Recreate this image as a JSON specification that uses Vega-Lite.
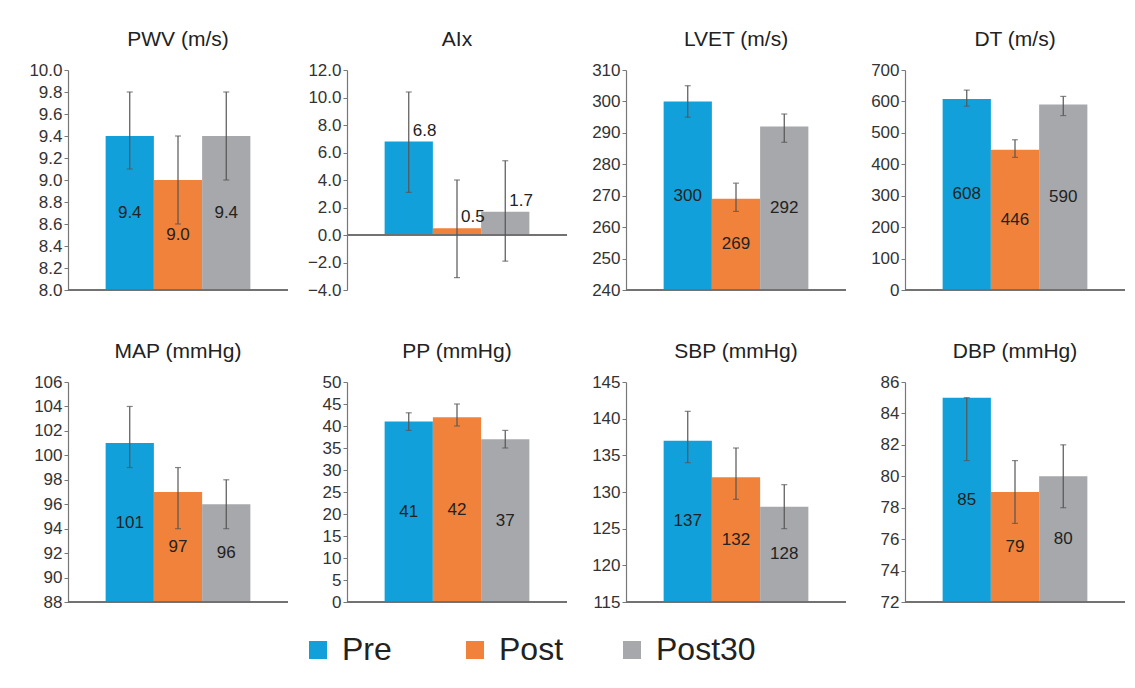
{
  "$schema": "https://vega.github.io/schema/vega-lite/v6.json",
  "background": "white",
  "padding": {"left": 28, "top": 29, "right": 5, "bottom": 5},
  "data": {"values": [
    {"panel": "PWV", "group": "Pre", "value": 9.4, "lo": 9.1, "hi": 9.8},
    {"panel": "PWV", "group": "Post", "value": 9.0, "lo": 8.6, "hi": 9.4},
    {"panel": "PWV", "group": "Post30", "value": 9.4, "lo": 9.0, "hi": 9.8},
    {"panel": "AIx", "group": "Pre", "value": 6.8, "lo": 3.1, "hi": 10.4},
    {"panel": "AIx", "group": "Post", "value": 0.5, "lo": -3.1, "hi": 4.0},
    {"panel": "AIx", "group": "Post30", "value": 1.7, "lo": -1.9, "hi": 5.4},
    {"panel": "LVET", "group": "Pre", "value": 300, "lo": 295, "hi": 305},
    {"panel": "LVET", "group": "Post", "value": 269, "lo": 265, "hi": 274},
    {"panel": "LVET", "group": "Post30", "value": 292, "lo": 287, "hi": 296},
    {"panel": "DT", "group": "Pre", "value": 608, "lo": 585, "hi": 636},
    {"panel": "DT", "group": "Post", "value": 446, "lo": 422, "hi": 478},
    {"panel": "DT", "group": "Post30", "value": 590, "lo": 555, "hi": 616},
    {"panel": "MAP", "group": "Pre", "value": 101, "lo": 99, "hi": 104},
    {"panel": "MAP", "group": "Post", "value": 97, "lo": 94, "hi": 99},
    {"panel": "MAP", "group": "Post30", "value": 96, "lo": 94, "hi": 98},
    {"panel": "PP", "group": "Pre", "value": 41, "lo": 39, "hi": 43},
    {"panel": "PP", "group": "Post", "value": 42, "lo": 40, "hi": 45},
    {"panel": "PP", "group": "Post30", "value": 37, "lo": 35, "hi": 39},
    {"panel": "SBP", "group": "Pre", "value": 137, "lo": 134, "hi": 141},
    {"panel": "SBP", "group": "Post", "value": 132, "lo": 129, "hi": 136},
    {"panel": "SBP", "group": "Post30", "value": 128, "lo": 125, "hi": 131},
    {"panel": "DBP", "group": "Pre", "value": 85, "lo": 81, "hi": 85},
    {"panel": "DBP", "group": "Post", "value": 79, "lo": 77, "hi": 81},
    {"panel": "DBP", "group": "Post30", "value": 80, "lo": 78, "hi": 82}
  ]},
  "columns": 4,
  "bounds": "flush",
  "spacing": {"row": 92, "column": 59},
  "concat": [
    {
      "title": "PWV (m/s)", "width": 220, "height": 220,
      "transform": [{"filter": {"field": "panel", "equal": "PWV"}}],
      "resolve": {"scale": {"y": "independent"}},
      "layer": [
        {"mark": "bar", "encoding": {
          "x": {"field": "group", "type": "nominal", "sort": ["Pre", "Post", "Post30"], "axis": null, "scale": {"paddingInner": 0, "paddingOuter": 0.78}},
          "y": {"field": "value", "type": "quantitative", "title": null, "scale": {"domain": [8, 10], "nice": false, "zero": false}, "axis": {"values": [8, 8.2, 8.4, 8.6, 8.8, 9, 9.2, 9.4, 9.6, 9.8, 10], "format": ".1f", "labelOverlap": false}},
          "y2": {"datum": 8},
          "color": {"field": "group", "type": "nominal", "scale": {"domain": ["Pre", "Post", "Post30"], "range": ["#12A0DA", "#F0823B", "#A6A8AB"]}, "legend": {"title": null}}}},
        {"mark": {"type": "rule", "color": "#707070", "strokeWidth": 1.5}, "encoding": {"y": {"datum": 8, "axis": null, "scale": {"domain": [8, 10], "nice": false, "zero": false}}}},
        {"mark": {"type": "rule", "color": "#555", "strokeWidth": 1.2}, "encoding": {
          "x": {"field": "group", "type": "nominal", "sort": ["Pre", "Post", "Post30"], "axis": null},
          "y": {"field": "lo", "type": "quantitative", "axis": null, "scale": {"domain": [8, 10], "nice": false, "zero": false}}, "y2": {"field": "hi"}}},
        {"mark": {"type": "tick", "color": "#555", "size": 6, "thickness": 1.2}, "encoding": {
          "x": {"field": "group", "type": "nominal", "sort": ["Pre", "Post", "Post30"], "axis": null},
          "y": {"field": "lo", "type": "quantitative", "axis": null, "scale": {"domain": [8, 10], "nice": false, "zero": false}}}},
        {"mark": {"type": "tick", "color": "#555", "size": 6, "thickness": 1.2}, "encoding": {
          "x": {"field": "group", "type": "nominal", "sort": ["Pre", "Post", "Post30"], "axis": null},
          "y": {"field": "hi", "type": "quantitative", "axis": null, "scale": {"domain": [8, 10], "nice": false, "zero": false}}}},
        {"mark": {"type": "text", "fontSize": 17, "color": "#222"}, "encoding": {
          "x": {"field": "group", "type": "nominal", "sort": ["Pre", "Post", "Post30"], "axis": null},
          "y": {"field": "value", "type": "quantitative", "axis": null, "scale": {"domain": [8, 12], "nice": false, "zero": false}},
          "text": {"field": "value", "type": "quantitative", "format": ".1f"}}}
      ]
    },
    {
      "title": "AIx", "width": 220, "height": 220,
      "transform": [{"filter": {"field": "panel", "equal": "AIx"}}],
      "resolve": {"scale": {"y": "independent"}},
      "layer": [
        {"mark": "bar", "encoding": {
          "x": {"field": "group", "type": "nominal", "sort": ["Pre", "Post", "Post30"], "axis": null, "scale": {"paddingInner": 0, "paddingOuter": 0.78}},
          "y": {"field": "value", "type": "quantitative", "title": null, "scale": {"domain": [-4, 12], "nice": false, "zero": false}, "axis": {"values": [-4, -2, 0, 2, 4, 6, 8, 10, 12], "format": ".1f", "labelOverlap": false}},
          "y2": {"datum": 0},
          "color": {"field": "group", "type": "nominal", "scale": {"domain": ["Pre", "Post", "Post30"], "range": ["#12A0DA", "#F0823B", "#A6A8AB"]}, "legend": {"title": null}}}},
        {"mark": {"type": "rule", "color": "#707070", "strokeWidth": 1.5}, "encoding": {"y": {"datum": 0, "axis": null, "scale": {"domain": [-4, 12], "nice": false, "zero": false}}}},
        {"mark": {"type": "rule", "color": "#555", "strokeWidth": 1.2}, "encoding": {
          "x": {"field": "group", "type": "nominal", "sort": ["Pre", "Post", "Post30"], "axis": null},
          "y": {"field": "lo", "type": "quantitative", "axis": null, "scale": {"domain": [-4, 12], "nice": false, "zero": false}}, "y2": {"field": "hi"}}},
        {"mark": {"type": "tick", "color": "#555", "size": 6, "thickness": 1.2}, "encoding": {
          "x": {"field": "group", "type": "nominal", "sort": ["Pre", "Post", "Post30"], "axis": null},
          "y": {"field": "lo", "type": "quantitative", "axis": null, "scale": {"domain": [-4, 12], "nice": false, "zero": false}}}},
        {"mark": {"type": "tick", "color": "#555", "size": 6, "thickness": 1.2}, "encoding": {
          "x": {"field": "group", "type": "nominal", "sort": ["Pre", "Post", "Post30"], "axis": null},
          "y": {"field": "hi", "type": "quantitative", "axis": null, "scale": {"domain": [-4, 12], "nice": false, "zero": false}}}},
        {"mark": {"type": "text", "fontSize": 17, "color": "#222", "align": "left", "baseline": "bottom", "dx": 4, "dy": -2}, "encoding": {
          "x": {"field": "group", "type": "nominal", "sort": ["Pre", "Post", "Post30"], "axis": null},
          "y": {"field": "value", "type": "quantitative", "axis": null, "scale": {"domain": [-4, 12], "nice": false, "zero": false}},
          "text": {"field": "value", "type": "quantitative", "format": ".1f"}}}
      ]
    },
    {
      "title": "LVET (m/s)", "width": 220, "height": 220,
      "transform": [{"filter": {"field": "panel", "equal": "LVET"}}],
      "resolve": {"scale": {"y": "independent"}},
      "layer": [
        {"mark": "bar", "encoding": {
          "x": {"field": "group", "type": "nominal", "sort": ["Pre", "Post", "Post30"], "axis": null, "scale": {"paddingInner": 0, "paddingOuter": 0.78}},
          "y": {"field": "value", "type": "quantitative", "title": null, "scale": {"domain": [240, 310], "nice": false, "zero": false}, "axis": {"values": [240, 250, 260, 270, 280, 290, 300, 310], "format": "d", "labelOverlap": false}},
          "y2": {"datum": 240},
          "color": {"field": "group", "type": "nominal", "scale": {"domain": ["Pre", "Post", "Post30"], "range": ["#12A0DA", "#F0823B", "#A6A8AB"]}, "legend": {"title": null}}}},
        {"mark": {"type": "rule", "color": "#707070", "strokeWidth": 1.5}, "encoding": {"y": {"datum": 240, "axis": null, "scale": {"domain": [240, 310], "nice": false, "zero": false}}}},
        {"mark": {"type": "rule", "color": "#555", "strokeWidth": 1.2}, "encoding": {
          "x": {"field": "group", "type": "nominal", "sort": ["Pre", "Post", "Post30"], "axis": null},
          "y": {"field": "lo", "type": "quantitative", "axis": null, "scale": {"domain": [240, 310], "nice": false, "zero": false}}, "y2": {"field": "hi"}}},
        {"mark": {"type": "tick", "color": "#555", "size": 6, "thickness": 1.2}, "encoding": {
          "x": {"field": "group", "type": "nominal", "sort": ["Pre", "Post", "Post30"], "axis": null},
          "y": {"field": "lo", "type": "quantitative", "axis": null, "scale": {"domain": [240, 310], "nice": false, "zero": false}}}},
        {"mark": {"type": "tick", "color": "#555", "size": 6, "thickness": 1.2}, "encoding": {
          "x": {"field": "group", "type": "nominal", "sort": ["Pre", "Post", "Post30"], "axis": null},
          "y": {"field": "hi", "type": "quantitative", "axis": null, "scale": {"domain": [240, 310], "nice": false, "zero": false}}}},
        {"mark": {"type": "text", "fontSize": 17, "color": "#222"}, "encoding": {
          "x": {"field": "group", "type": "nominal", "sort": ["Pre", "Post", "Post30"], "axis": null},
          "y": {"field": "value", "type": "quantitative", "axis": null, "scale": {"domain": [240, 380], "nice": false, "zero": false}},
          "text": {"field": "value", "type": "quantitative", "format": "d"}}}
      ]
    },
    {
      "title": "DT (m/s)", "width": 220, "height": 220,
      "transform": [{"filter": {"field": "panel", "equal": "DT"}}],
      "resolve": {"scale": {"y": "independent"}},
      "layer": [
        {"mark": "bar", "encoding": {
          "x": {"field": "group", "type": "nominal", "sort": ["Pre", "Post", "Post30"], "axis": null, "scale": {"paddingInner": 0, "paddingOuter": 0.78}},
          "y": {"field": "value", "type": "quantitative", "title": null, "scale": {"domain": [0, 700], "nice": false, "zero": false}, "axis": {"values": [0, 100, 200, 300, 400, 500, 600, 700], "format": "d", "labelOverlap": false}},
          "y2": {"datum": 0},
          "color": {"field": "group", "type": "nominal", "scale": {"domain": ["Pre", "Post", "Post30"], "range": ["#12A0DA", "#F0823B", "#A6A8AB"]}, "legend": {"title": null}}}},
        {"mark": {"type": "rule", "color": "#707070", "strokeWidth": 1.5}, "encoding": {"y": {"datum": 0, "axis": null, "scale": {"domain": [0, 700], "nice": false, "zero": false}}}},
        {"mark": {"type": "rule", "color": "#555", "strokeWidth": 1.2}, "encoding": {
          "x": {"field": "group", "type": "nominal", "sort": ["Pre", "Post", "Post30"], "axis": null},
          "y": {"field": "lo", "type": "quantitative", "axis": null, "scale": {"domain": [0, 700], "nice": false, "zero": false}}, "y2": {"field": "hi"}}},
        {"mark": {"type": "tick", "color": "#555", "size": 6, "thickness": 1.2}, "encoding": {
          "x": {"field": "group", "type": "nominal", "sort": ["Pre", "Post", "Post30"], "axis": null},
          "y": {"field": "lo", "type": "quantitative", "axis": null, "scale": {"domain": [0, 700], "nice": false, "zero": false}}}},
        {"mark": {"type": "tick", "color": "#555", "size": 6, "thickness": 1.2}, "encoding": {
          "x": {"field": "group", "type": "nominal", "sort": ["Pre", "Post", "Post30"], "axis": null},
          "y": {"field": "hi", "type": "quantitative", "axis": null, "scale": {"domain": [0, 700], "nice": false, "zero": false}}}},
        {"mark": {"type": "text", "fontSize": 17, "color": "#222"}, "encoding": {
          "x": {"field": "group", "type": "nominal", "sort": ["Pre", "Post", "Post30"], "axis": null},
          "y": {"field": "value", "type": "quantitative", "axis": null, "scale": {"domain": [0, 1400], "nice": false, "zero": false}},
          "text": {"field": "value", "type": "quantitative", "format": "d"}}}
      ]
    },
    {
      "title": "MAP (mmHg)", "width": 220, "height": 220,
      "transform": [{"filter": {"field": "panel", "equal": "MAP"}}],
      "resolve": {"scale": {"y": "independent"}},
      "layer": [
        {"mark": "bar", "encoding": {
          "x": {"field": "group", "type": "nominal", "sort": ["Pre", "Post", "Post30"], "axis": null, "scale": {"paddingInner": 0, "paddingOuter": 0.78}},
          "y": {"field": "value", "type": "quantitative", "title": null, "scale": {"domain": [88, 106], "nice": false, "zero": false}, "axis": {"values": [88, 90, 92, 94, 96, 98, 100, 102, 104, 106], "format": "d", "labelOverlap": false}},
          "y2": {"datum": 88},
          "color": {"field": "group", "type": "nominal", "scale": {"domain": ["Pre", "Post", "Post30"], "range": ["#12A0DA", "#F0823B", "#A6A8AB"]}, "legend": {"title": null}}}},
        {"mark": {"type": "rule", "color": "#707070", "strokeWidth": 1.5}, "encoding": {"y": {"datum": 88, "axis": null, "scale": {"domain": [88, 106], "nice": false, "zero": false}}}},
        {"mark": {"type": "rule", "color": "#555", "strokeWidth": 1.2}, "encoding": {
          "x": {"field": "group", "type": "nominal", "sort": ["Pre", "Post", "Post30"], "axis": null},
          "y": {"field": "lo", "type": "quantitative", "axis": null, "scale": {"domain": [88, 106], "nice": false, "zero": false}}, "y2": {"field": "hi"}}},
        {"mark": {"type": "tick", "color": "#555", "size": 6, "thickness": 1.2}, "encoding": {
          "x": {"field": "group", "type": "nominal", "sort": ["Pre", "Post", "Post30"], "axis": null},
          "y": {"field": "lo", "type": "quantitative", "axis": null, "scale": {"domain": [88, 106], "nice": false, "zero": false}}}},
        {"mark": {"type": "tick", "color": "#555", "size": 6, "thickness": 1.2}, "encoding": {
          "x": {"field": "group", "type": "nominal", "sort": ["Pre", "Post", "Post30"], "axis": null},
          "y": {"field": "hi", "type": "quantitative", "axis": null, "scale": {"domain": [88, 106], "nice": false, "zero": false}}}},
        {"mark": {"type": "text", "fontSize": 17, "color": "#222"}, "encoding": {
          "x": {"field": "group", "type": "nominal", "sort": ["Pre", "Post", "Post30"], "axis": null},
          "y": {"field": "value", "type": "quantitative", "axis": null, "scale": {"domain": [88, 124], "nice": false, "zero": false}},
          "text": {"field": "value", "type": "quantitative", "format": "d"}}}
      ]
    },
    {
      "title": "PP (mmHg)", "width": 220, "height": 220,
      "transform": [{"filter": {"field": "panel", "equal": "PP"}}],
      "resolve": {"scale": {"y": "independent"}},
      "layer": [
        {"mark": "bar", "encoding": {
          "x": {"field": "group", "type": "nominal", "sort": ["Pre", "Post", "Post30"], "axis": null, "scale": {"paddingInner": 0, "paddingOuter": 0.78}},
          "y": {"field": "value", "type": "quantitative", "title": null, "scale": {"domain": [0, 50], "nice": false, "zero": false}, "axis": {"values": [0, 5, 10, 15, 20, 25, 30, 35, 40, 45, 50], "format": "d", "labelOverlap": false}},
          "y2": {"datum": 0},
          "color": {"field": "group", "type": "nominal", "scale": {"domain": ["Pre", "Post", "Post30"], "range": ["#12A0DA", "#F0823B", "#A6A8AB"]}, "legend": {"title": null}}}},
        {"mark": {"type": "rule", "color": "#707070", "strokeWidth": 1.5}, "encoding": {"y": {"datum": 0, "axis": null, "scale": {"domain": [0, 50], "nice": false, "zero": false}}}},
        {"mark": {"type": "rule", "color": "#555", "strokeWidth": 1.2}, "encoding": {
          "x": {"field": "group", "type": "nominal", "sort": ["Pre", "Post", "Post30"], "axis": null},
          "y": {"field": "lo", "type": "quantitative", "axis": null, "scale": {"domain": [0, 50], "nice": false, "zero": false}}, "y2": {"field": "hi"}}},
        {"mark": {"type": "tick", "color": "#555", "size": 6, "thickness": 1.2}, "encoding": {
          "x": {"field": "group", "type": "nominal", "sort": ["Pre", "Post", "Post30"], "axis": null},
          "y": {"field": "lo", "type": "quantitative", "axis": null, "scale": {"domain": [0, 50], "nice": false, "zero": false}}}},
        {"mark": {"type": "tick", "color": "#555", "size": 6, "thickness": 1.2}, "encoding": {
          "x": {"field": "group", "type": "nominal", "sort": ["Pre", "Post", "Post30"], "axis": null},
          "y": {"field": "hi", "type": "quantitative", "axis": null, "scale": {"domain": [0, 50], "nice": false, "zero": false}}}},
        {"mark": {"type": "text", "fontSize": 17, "color": "#222"}, "encoding": {
          "x": {"field": "group", "type": "nominal", "sort": ["Pre", "Post", "Post30"], "axis": null},
          "y": {"field": "value", "type": "quantitative", "axis": null, "scale": {"domain": [0, 100], "nice": false, "zero": false}},
          "text": {"field": "value", "type": "quantitative", "format": "d"}}}
      ]
    },
    {
      "title": "SBP (mmHg)", "width": 220, "height": 220,
      "transform": [{"filter": {"field": "panel", "equal": "SBP"}}],
      "resolve": {"scale": {"y": "independent"}},
      "layer": [
        {"mark": "bar", "encoding": {
          "x": {"field": "group", "type": "nominal", "sort": ["Pre", "Post", "Post30"], "axis": null, "scale": {"paddingInner": 0, "paddingOuter": 0.78}},
          "y": {"field": "value", "type": "quantitative", "title": null, "scale": {"domain": [115, 145], "nice": false, "zero": false}, "axis": {"values": [115, 120, 125, 130, 135, 140, 145], "format": "d", "labelOverlap": false}},
          "y2": {"datum": 115},
          "color": {"field": "group", "type": "nominal", "scale": {"domain": ["Pre", "Post", "Post30"], "range": ["#12A0DA", "#F0823B", "#A6A8AB"]}, "legend": {"title": null}}}},
        {"mark": {"type": "rule", "color": "#707070", "strokeWidth": 1.5}, "encoding": {"y": {"datum": 115, "axis": null, "scale": {"domain": [115, 145], "nice": false, "zero": false}}}},
        {"mark": {"type": "rule", "color": "#555", "strokeWidth": 1.2}, "encoding": {
          "x": {"field": "group", "type": "nominal", "sort": ["Pre", "Post", "Post30"], "axis": null},
          "y": {"field": "lo", "type": "quantitative", "axis": null, "scale": {"domain": [115, 145], "nice": false, "zero": false}}, "y2": {"field": "hi"}}},
        {"mark": {"type": "tick", "color": "#555", "size": 6, "thickness": 1.2}, "encoding": {
          "x": {"field": "group", "type": "nominal", "sort": ["Pre", "Post", "Post30"], "axis": null},
          "y": {"field": "lo", "type": "quantitative", "axis": null, "scale": {"domain": [115, 145], "nice": false, "zero": false}}}},
        {"mark": {"type": "tick", "color": "#555", "size": 6, "thickness": 1.2}, "encoding": {
          "x": {"field": "group", "type": "nominal", "sort": ["Pre", "Post", "Post30"], "axis": null},
          "y": {"field": "hi", "type": "quantitative", "axis": null, "scale": {"domain": [115, 145], "nice": false, "zero": false}}}},
        {"mark": {"type": "text", "fontSize": 17, "color": "#222"}, "encoding": {
          "x": {"field": "group", "type": "nominal", "sort": ["Pre", "Post", "Post30"], "axis": null},
          "y": {"field": "value", "type": "quantitative", "axis": null, "scale": {"domain": [115, 175], "nice": false, "zero": false}},
          "text": {"field": "value", "type": "quantitative", "format": "d"}}}
      ]
    },
    {
      "title": "DBP (mmHg)", "width": 220, "height": 220,
      "transform": [{"filter": {"field": "panel", "equal": "DBP"}}],
      "resolve": {"scale": {"y": "independent"}},
      "layer": [
        {"mark": "bar", "encoding": {
          "x": {"field": "group", "type": "nominal", "sort": ["Pre", "Post", "Post30"], "axis": null, "scale": {"paddingInner": 0, "paddingOuter": 0.78}},
          "y": {"field": "value", "type": "quantitative", "title": null, "scale": {"domain": [72, 86], "nice": false, "zero": false}, "axis": {"values": [72, 74, 76, 78, 80, 82, 84, 86], "format": "d", "labelOverlap": false}},
          "y2": {"datum": 72},
          "color": {"field": "group", "type": "nominal", "scale": {"domain": ["Pre", "Post", "Post30"], "range": ["#12A0DA", "#F0823B", "#A6A8AB"]}, "legend": {"title": null}}}},
        {"mark": {"type": "rule", "color": "#707070", "strokeWidth": 1.5}, "encoding": {"y": {"datum": 72, "axis": null, "scale": {"domain": [72, 86], "nice": false, "zero": false}}}},
        {"mark": {"type": "rule", "color": "#555", "strokeWidth": 1.2}, "encoding": {
          "x": {"field": "group", "type": "nominal", "sort": ["Pre", "Post", "Post30"], "axis": null},
          "y": {"field": "lo", "type": "quantitative", "axis": null, "scale": {"domain": [72, 86], "nice": false, "zero": false}}, "y2": {"field": "hi"}}},
        {"mark": {"type": "tick", "color": "#555", "size": 6, "thickness": 1.2}, "encoding": {
          "x": {"field": "group", "type": "nominal", "sort": ["Pre", "Post", "Post30"], "axis": null},
          "y": {"field": "lo", "type": "quantitative", "axis": null, "scale": {"domain": [72, 86], "nice": false, "zero": false}}}},
        {"mark": {"type": "tick", "color": "#555", "size": 6, "thickness": 1.2}, "encoding": {
          "x": {"field": "group", "type": "nominal", "sort": ["Pre", "Post", "Post30"], "axis": null},
          "y": {"field": "hi", "type": "quantitative", "axis": null, "scale": {"domain": [72, 86], "nice": false, "zero": false}}}},
        {"mark": {"type": "text", "fontSize": 17, "color": "#222"}, "encoding": {
          "x": {"field": "group", "type": "nominal", "sort": ["Pre", "Post", "Post30"], "axis": null},
          "y": {"field": "value", "type": "quantitative", "axis": null, "scale": {"domain": [72, 100], "nice": false, "zero": false}},
          "text": {"field": "value", "type": "quantitative", "format": "d"}}}
      ]
    }
  ],
  "config": {
    "font": "Liberation Sans",
    "view": {"stroke": null},
    "title": {"fontSize": 21, "fontWeight": "normal", "color": "#222", "offset": 11},
    "axisY": {"labelFontSize": 17, "labelColor": "#333", "tickSize": 4, "tickColor": "#777", "domainColor": "#777", "domainWidth": 1.2, "grid": false, "labelPadding": 2, "labelOverlap": false},
    "legend": {"orient": "none", "legendX": 234, "legendY": 564, "direction": "horizontal", "symbolType": "square", "symbolSize": 324, "symbolStrokeWidth": 0, "labelFontSize": 32, "labelColor": "#222", "labelOffset": 8, "columnPadding": 17, "gridAlign": "all"}
  }
}
